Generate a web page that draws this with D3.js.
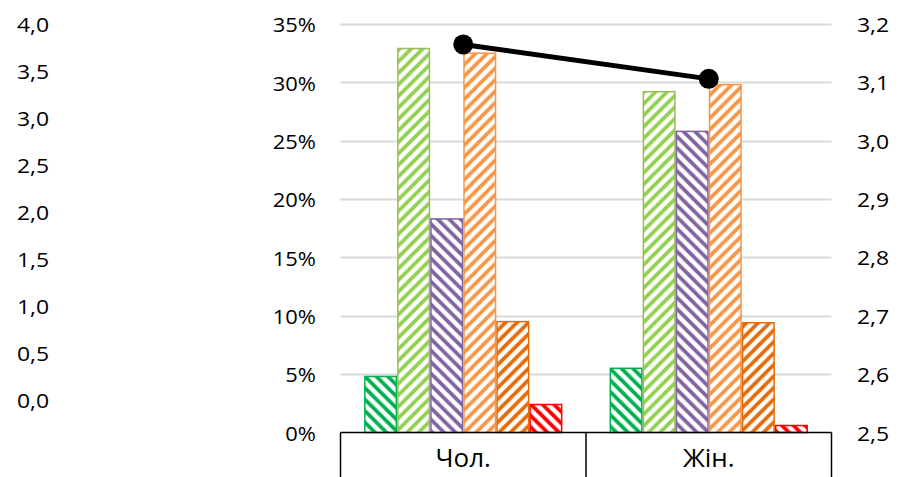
<!DOCTYPE html>
<html>
<head>
<meta charset="utf-8">
<script src="https://cdn.jsdelivr.net/npm/d3@7"></script>
<style>
  html, body { margin: 0; padding: 0; background: #fff; }
  svg { display: block; }
  text { font-family: "Open Sans", "Noto Sans", sans-serif; fill: #000; }
</style>
</head>
<body>
<svg id="chart" width="900" height="477"></svg>
<script>
// ---- data ----
const categories = ["Чол.", "Жін."];
const seriesNames = ["s1", "s2", "s3", "s4", "s5", "s6"];
const s1 = [4.8, 5.5];
const s2 = [32.9, 29.2];
const s3 = [18.3, 25.8];
const s4 = [32.5, 29.8];
const s5 = [9.5, 9.4];
const s6 = [2.4, 0.6];
const lineValues = [3.165, 3.106];
const pctTicks = [0, 5, 10, 15, 20, 25, 30, 35];
const rightTicks = [2.5, 2.6, 2.7, 2.8, 2.9, 3.0, 3.1, 3.2];
const leftTicks = [0, 0.5, 1.0, 1.5, 2.0, 2.5, 3.0, 3.5, 4.0];

const seriesValues = [s1, s2, s3, s4, s5, s6];
const seriesColors = ["#00B050", "#92D050", "#8064A2", "#F79646", "#E46C0A", "#FF0000"];
const seriesBorders = ["#00B050", "#9BBB59", "#8064A2", "#F79646", "#E46C0A", "#FF0000"];
const seriesDir = ["down", "up", "down", "up", "up", "down"];

const svg = d3.select("#chart");
const plotLeft = 340.5, plotRight = 831.5, plotTop = 24, plotBottom = 432.5;

const y = d3.scaleLinear().domain([0, 35]).range([plotBottom, plotTop]);
const yR = d3.scaleLinear().domain([2.5, 3.2]).range([plotBottom, plotTop]);
const yL = d3.scaleLinear().domain([0, 4]).range([400, 23.5]);
const x0 = d3.scaleBand().domain(categories).range([plotLeft, plotRight]).padding(0);
const groupW = x0.bandwidth() * 0.808;
const x1 = d3.scaleBand().domain(seriesNames).range([0, groupW]).padding(0);

// patterns
const defs = svg.append("defs");
const P = 11.5;
seriesNames.forEach((n, i) => {
  const pat = defs.append("pattern")
    .attr("id", "pat-" + n)
    .attr("patternUnits", "userSpaceOnUse")
    .attr("width", P).attr("height", P);
  pat.append("rect").attr("width", P).attr("height", P).attr("fill", "#fff");
  const d = seriesDir[i] === "up"
    ? `M0,${P} L${P},0 M${-P/2},${P/2} L${P/2},${-P/2} M${P/2},${1.5*P} L${1.5*P},${P/2}`
    : `M0,0 L${P},${P} M${-P/2},${P/2} L${P/2},${1.5*P} M${P/2},${-P/2} L${1.5*P},${P/2}`;
  pat.append("path").attr("d", d).attr("stroke", seriesColors[i]).attr("stroke-width", 3.8).attr("fill", "none");
});

// gridlines
svg.append("g").selectAll("line").data(pctTicks.filter(t => t > 0)).join("line")
  .attr("x1", plotLeft).attr("x2", plotRight)
  .attr("y1", d => Math.round(y(d)) + 0.5).attr("y2", d => Math.round(y(d)) + 0.5)
  .attr("stroke", "#D9D9D9").attr("stroke-width", 1.8);

// text helper with slight horizontal stretch
function label(g, txt, xx, yy, anchor, size, sx) {
  g.append("text")
    .attr("transform", `translate(${xx},${yy}) scale(${sx},1)`)
    .attr("text-anchor", anchor)
    .attr("dominant-baseline", "central")
    .style("font-size", size + "px")
    .text(txt);
}
const fmt1 = d3.format(".1f");
const comma = v => fmt1(v).replace(".", ",");

// left % axis
const gPct = svg.append("g");
pctTicks.forEach(t => label(gPct, t + "%", 316, y(t), "end", 20.5, 1.07));
// right axis
const gR = svg.append("g");
rightTicks.forEach(t => label(gR, comma(t), 857, yR(t), "start", 20.5, 1.12));
// far-left axis
const gL = svg.append("g");
leftTicks.forEach(t => label(gL, comma(t), 17, yL(t), "start", 20.5, 1.12));

// bars
const gBars = svg.append("g");
categories.forEach((c, ci) => {
  const gx = x0(c) + (x0.bandwidth() - groupW) / 2;
  seriesNames.forEach((n, si) => {
    const v = seriesValues[si][ci];
    gBars.append("rect")
      .attr("x", gx + x1(n) + 0.75)
      .attr("y", y(v))
      .attr("width", x1.bandwidth() - 1.5)
      .attr("height", y(0) - y(v))
      .attr("fill", `url(#pat-${n})`)
      .attr("stroke", seriesBorders[si])
      .attr("stroke-width", 1.5);
  });
});

// category box
const gC = svg.append("g");
gC.append("line").attr("x1", plotLeft).attr("x2", plotRight).attr("y1", plotBottom).attr("y2", plotBottom)
  .attr("stroke", "#000").attr("stroke-width", 1.5);
const bounds = [plotLeft, x0(categories[1]), plotRight];
gC.selectAll("line.v").data(bounds).join("line").attr("class", "v")
  .attr("x1", d => d).attr("x2", d => d).attr("y1", plotBottom).attr("y2", 477)
  .attr("stroke", "#000").attr("stroke-width", 1.5);
categories.forEach(c => label(gC, c, x0(c) + x0.bandwidth() / 2, 457, "middle", 26, 1.0));

// line series
const pts = categories.map((c, i) => [x0(c) + x0.bandwidth() / 2, yR(lineValues[i])]);
svg.append("path").attr("d", d3.line()(pts)).attr("stroke", "#000").attr("stroke-width", 5).attr("fill", "none");
svg.append("g").selectAll("circle").data(pts).join("circle")
  .attr("cx", d => d[0]).attr("cy", d => d[1]).attr("r", 10).attr("fill", "#000");
</script>
</body>
</html>
